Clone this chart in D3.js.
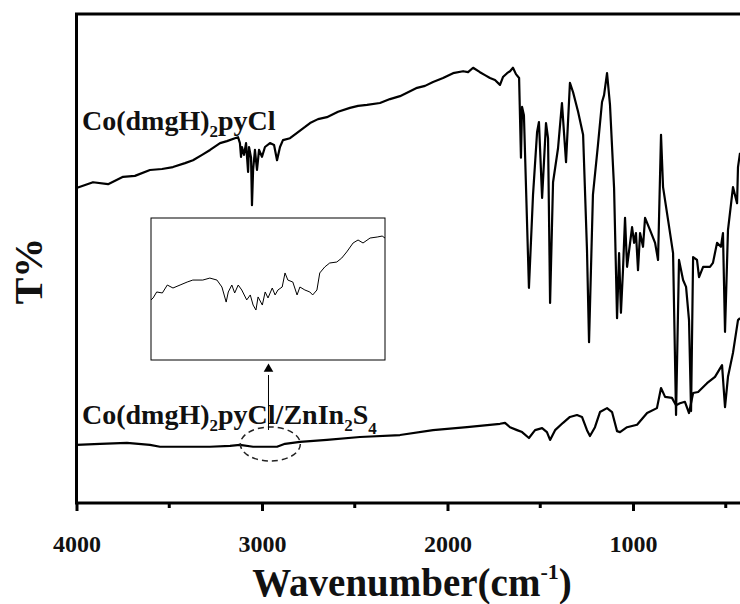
<!DOCTYPE html>
<html>
<head>
<meta charset="utf-8">
<script src="https://cdn.jsdelivr.net/npm/d3@7"></script>
<style>
  body { margin: 0; background: #fff; }
  text { font-family: "Liberation Serif", "Times New Roman", serif; font-weight: bold; fill: #111; }
</style>
</head>
<body>
<div id="chart"></div>
<script>
// wavenumber (cm-1) and transmittance (a.u.)
const complexWn = [4000, 3911, 3830, 3749, 3685, 3604, 3539, 3480, 3415, 3372, 3323, 3280, 3226, 3189, 3146, 3129, 3119, 3113, 3108, 3097, 3086, 3075, 3070, 3059, 3054, 3048, 3038, 3027, 3016, 3000, 2984, 2957, 2935, 2919, 2903, 2887, 2849, 2811, 2768, 2741, 2698, 2650, 2590, 2526, 2482, 2434, 2364, 2310, 2256, 2164, 2121, 2078, 2024, 1970, 1916, 1889, 1862, 1825, 1798, 1771, 1744, 1717, 1701, 1679, 1663, 1647, 1631, 1614, 1604, 1598, 1588, 1561, 1539, 1517, 1507, 1490, 1469, 1458, 1447, 1431, 1404, 1383, 1361, 1340, 1323, 1296, 1269, 1248, 1237, 1216, 1189, 1167, 1156, 1140, 1124, 1102, 1086, 1075, 1065, 1054, 1043, 1032, 1005, 994, 984, 973, 962, 946, 935, 908, 881, 865, 849, 838, 811, 784, 768, 752, 730, 714, 698, 687, 676, 655, 644, 622, 585, 569, 547, 526, 515, 504, 488, 461, 439, 434, 423]
const complexT = [64.4, 65.6, 65.2, 66.7, 66.9, 68.1, 68.3, 68.7, 69.5, 70.1, 71.2, 72.2, 73.6, 74.0, 74.6, 74.8, 73.6, 70.8, 72.8, 71.2, 73.6, 67.7, 72.8, 70.6, 60.9, 68.1, 72.2, 68.1, 72.2, 70.8, 72.8, 73.6, 73.2, 70.1, 72.8, 74.2, 74.6, 75.7, 76.9, 77.7, 78.5, 78.9, 80.0, 80.8, 81.2, 81.4, 81.8, 82.6, 83.2, 84.9, 85.3, 86.1, 86.9, 87.9, 88.3, 88.1, 89.0, 88.1, 87.5, 86.9, 86.5, 85.5, 87.1, 87.9, 88.3, 89.0, 87.7, 86.9, 70.6, 81.0, 79.3, 44.0, 63.0, 75.9, 77.9, 62.4, 77.7, 74.6, 40.9, 65.6, 72.6, 81.8, 69.7, 85.9, 84.0, 80.0, 75.3, 51.7, 32.9, 63.0, 73.2, 82.0, 83.4, 87.9, 81.4, 64.4, 37.8, 51.1, 38.9, 47.6, 58.3, 48.3, 56.4, 53.2, 55.2, 47.6, 55.2, 52.4, 58.3, 55.8, 53.2, 49.7, 75.3, 64.6, 57.9, 51.1, 18.0, 49.7, 45.6, 44.2, 37.4, 18.8, 50.3, 49.7, 46.2, 48.3, 48.3, 49.1, 53.2, 52.4, 55.2, 35.0, 55.8, 64.6, 61.3, 68.7, 71.6]

const compositeWn = [4000, 3873, 3728, 3604, 3550, 3415, 3280, 3172, 3119, 3048, 2984, 2919, 2876, 2795, 2650, 2472, 2256, 2078, 1895, 1717, 1690, 1663, 1625, 1598, 1561, 1528, 1490, 1464, 1447, 1420, 1377, 1340, 1302, 1275, 1248, 1232, 1205, 1178, 1140, 1113, 1086, 1070, 1032, 978, 924, 871, 849, 827, 790, 768, 747, 720, 698, 676, 649, 601, 558, 520, 504, 488, 461, 434, 423]
const compositeT = [11.9, 12.1, 12.3, 11.9, 11.5, 11.5, 11.5, 11.7, 11.9, 11.5, 11.5, 11.5, 12.1, 12.5, 12.9, 13.5, 13.9, 14.9, 15.5, 16.2, 16.4, 15.5, 14.9, 14.5, 13.3, 14.9, 15.3, 14.5, 12.9, 14.9, 16.4, 17.6, 18.0, 17.6, 14.9, 13.7, 15.5, 18.6, 19.4, 18.6, 14.7, 14.5, 15.5, 16.0, 18.4, 19.4, 23.5, 21.7, 21.5, 20.0, 20.4, 20.7, 18.4, 22.5, 22.7, 24.5, 25.8, 28.2, 19.6, 25.8, 30.7, 37.4, 37.8]

// magnified part of the composite spectrum (inset)
const insetWn = [3130, 3127, 3122, 3114, 3107, 3099, 3089, 3079, 3071, 3057, 3047, 3037, 3030, 3024, 3021, 3016, 3012, 3007, 3002, 2995, 2990, 2986, 2982, 2979, 2973, 2969, 2965, 2959, 2955, 2951, 2945, 2941, 2937, 2930, 2924, 2920, 2913, 2906, 2902, 2896, 2892, 2885, 2878, 2868, 2861, 2854, 2845, 2838, 2831, 2821, 2811, 2804, 2800]
const insetT = [42.3, 43.7, 47.9, 47.2, 52.8, 50.7, 52.8, 54.9, 56.3, 56.3, 57.7, 56.3, 51.4, 40.8, 47.9, 52.8, 47.2, 52.8, 49.3, 42.3, 45.8, 38.7, 35.2, 44.4, 38.7, 47.9, 43.7, 50.7, 45.8, 49.3, 51.4, 61.3, 56.3, 54.9, 45.8, 51.4, 49.3, 47.9, 45.8, 49.3, 61.3, 65.5, 68.3, 69.0, 71.8, 76.1, 82.4, 84.5, 82.4, 85.9, 86.6, 87.3, 85.9]

const majorTicks = [4000, 3000, 2000, 1000]
const minorTicks = [3500, 2500, 1500, 500]

const width = 740, height = 604
const svg = d3.select("#chart").append("svg")
  .attr("width", width)
  .attr("height", height)

const x = d3.scaleLinear().domain([4000, 400]).range([76.5, 744.3])
const y = d3.scaleLinear().domain([0, 100]).range([503, 14])

const line = d3.line()
  .x(d => x(d[0]))
  .y(d => y(d[1]))

svg.append("path")
  .datum(d3.zip(complexWn, complexT))
  .attr("d", line)
  .attr("fill", "none")
  .attr("stroke", "#000")
  .attr("stroke-width", 2.2)
  .attr("stroke-linejoin", "round")

svg.append("path")
  .datum(d3.zip(compositeWn, compositeT))
  .attr("d", line)
  .attr("fill", "none")
  .attr("stroke", "#000")
  .attr("stroke-width", 2.2)
  .attr("stroke-linejoin", "round")

// frame
svg.append("rect")
  .attr("x", x(4000))
  .attr("y", y(100))
  .attr("width", x(400) - x(4000))
  .attr("height", y(0) - y(100))
  .attr("fill", "none")
  .attr("stroke", "#000")
  .attr("stroke-width", 3)

// bottom axis
const axis = svg.append("g")
  .attr("transform", `translate(0,${y(0)})`)
  .call(d3.axisBottom(x).tickValues(majorTicks).tickSize(8).tickPadding(24).tickFormat(d3.format("d")))
axis.select(".domain").remove()
axis.selectAll("line").attr("stroke", "#000").attr("stroke-width", 3)
axis.selectAll("text").attr("font-size", 24).attr("font-family", "Liberation Serif").attr("font-weight", "bold").attr("fill", "#111")

svg.append("g")
  .selectAll("line")
  .data(minorTicks)
  .enter().append("line")
  .attr("x1", d => x(d))
  .attr("x2", d => x(d))
  .attr("y1", y(0))
  .attr("y2", y(0) + 5)
  .attr("stroke", "#000")
  .attr("stroke-width", 3)

// axis titles
const xt = svg.append("text")
  .attr("x", 412)
  .attr("y", 596)
  .attr("text-anchor", "middle")
  .attr("font-size", 39)
xt.append("tspan").text("Wavenumber(cm")
xt.append("tspan").attr("font-size", 22).attr("dy", -17).text("-1")
xt.append("tspan").attr("dy", 17).text(")")

svg.append("text")
  .attr("transform", "translate(42,271) rotate(-90)")
  .attr("text-anchor", "middle")
  .attr("font-size", 40)
  .text("T%")

// series labels
const lab1 = svg.append("text").attr("x", 82).attr("y", 130).attr("font-size", 28)
lab1.append("tspan").text("Co(dmgH)")
lab1.append("tspan").attr("font-size", 17).attr("dy", 7).text("2")
lab1.append("tspan").attr("dy", -7).text("pyCl")

const lab2 = svg.append("text").attr("x", 82).attr("y", 424).attr("font-size", 28)
lab2.append("tspan").text("Co(dmgH)")
lab2.append("tspan").attr("font-size", 17).attr("dy", 7).text("2")
lab2.append("tspan").attr("dy", -7).text("pyCl/ZnIn")
lab2.append("tspan").attr("font-size", 17).attr("dy", 7).text("2")
lab2.append("tspan").attr("dy", -7).text("S")
lab2.append("tspan").attr("font-size", 17).attr("dy", 10).text("4")

// dashed ellipse around the magnified region and arrow to the inset
svg.append("ellipse")
  .attr("cx", x(2955))
  .attr("cy", 444)
  .attr("rx", 30)
  .attr("ry", 17)
  .attr("fill", "none")
  .attr("stroke", "#222")
  .attr("stroke-width", 1.5)
  .attr("stroke-dasharray", "6,4")

svg.append("line")
  .attr("x1", x(2965)).attr("x2", x(2965))
  .attr("y1", 430).attr("y2", 375)
  .attr("stroke", "#000")
  .attr("stroke-width", 1)
svg.append("path")
  .attr("d", d3.symbol().type(d3.symbolTriangle).size(40))
  .attr("transform", `translate(${x(2965)},369)`)
  .attr("fill", "#000")

// inset
const ix = d3.scaleLinear().domain([3130, 2800]).range([151, 385])
const iy = d3.scaleLinear().domain([0, 100]).range([360, 218])

svg.append("rect")
  .attr("x", ix(3130))
  .attr("y", iy(100))
  .attr("width", ix(2800) - ix(3130))
  .attr("height", iy(0) - iy(100))
  .attr("fill", "#fff")
  .attr("stroke", "#000")
  .attr("stroke-width", 1)

svg.append("path")
  .datum(d3.zip(insetWn, insetT))
  .attr("d", d3.line().x(d => ix(d[0])).y(d => iy(d[1])))
  .attr("fill", "none")
  .attr("stroke", "#000")
  .attr("stroke-width", 1)
</script>
</body>
</html>
